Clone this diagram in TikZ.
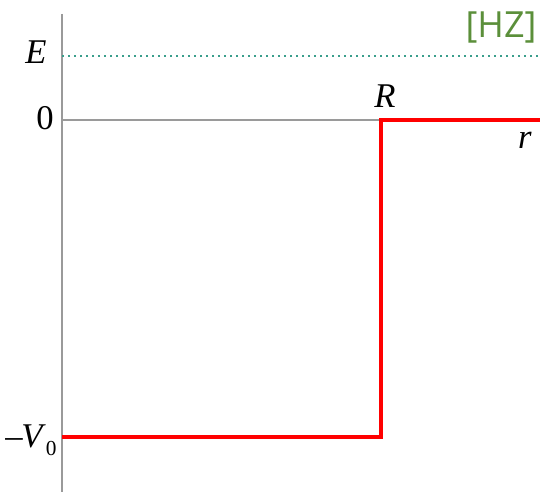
\documentclass[tikz,border=0pt]{standalone}
\usepackage{fontspec}
\setmainfont{Liberation Serif}
\newfontfamily\tagfont{Open Sans}
\usetikzlibrary{positioning}
\definecolor{WellRed}{HTML}{FF0000}
\definecolor{WellGrey}{HTML}{9A9A9A}
\definecolor{WellTeal}{HTML}{3A9E8C}
\definecolor{WellGreen}{HTML}{5B8F3A}

\begin{document}
\begin{tikzpicture}[x=0.75pt,y=-0.75pt,
 axisline/.style={draw=WellGrey,line width=0.8pt},
 energy/.style={draw=WellTeal,line width=1.6pt,dash pattern=on 1.6pt off 2.9pt},
 well/.style={draw=WellRed,line width=3pt},
 lbl/.style={font=\fontsize{26}{28}\selectfont,inner sep=0pt}]
\useasboundingbox (0,0) rectangle (542,495);
% axes
\coordinate (top) at (62,14);
\coordinate (bot) at (62,492);
\coordinate (zero) at (62,120);
\coordinate (zeroend) at (540,120);
\coordinate (eleft) at (62,56);
\coordinate (eright) at (540,56);
\draw[axisline] (top) -- (bot);
\draw[axisline] (zero) -- (zeroend);
\draw[energy] (eleft) -- (eright);
% potential well
\coordinate (wa) at (62,437);
\coordinate (wb) at (381,437);
\coordinate (wc) at (381,120);
\coordinate (wd) at (540,120);
\draw[well,line join=miter] (wa) -- (wb) -- (wc) -- (wd);
% labels
\node[lbl] (elbl) at (36,52) {\textit{E}};
\node[lbl] (zlbl) at (45,118) {0};
\node[lbl] (rlbl) at (385,96) {\textit{R}};
\node[lbl] (rvar) at (525,140) {\textit{r}};
\node[lbl] (vlbl) at (31,440) {–\kern-1pt\textit{V}\raisebox{-6pt}{\fontsize{16}{16}\selectfont 0}};
\node[font=\tagfont\fontsize{27}{29}\selectfont,color=WellGreen,inner sep=0pt] (tag) at (501,28) {[HZ]};
\end{tikzpicture}
\end{document}
